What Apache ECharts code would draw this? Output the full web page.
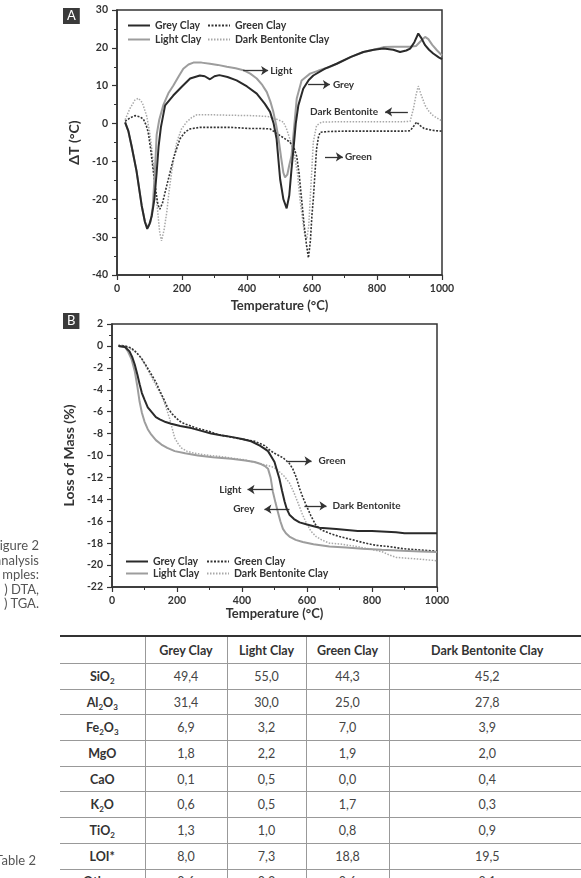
<!DOCTYPE html>
<html><head><meta charset="utf-8">
<script src="https://cdn.jsdelivr.net/npm/echarts@6/dist/echarts.min.js"></script>
<style>
html,body{margin:0;padding:0;background:#fff;}
body{width:581px;height:878px;overflow:hidden;position:relative;font-family:Lato,'Open Sans',sans-serif;}
#chart{position:absolute;left:0;top:0;width:581px;height:625px;}
.cap{position:absolute;color:#555;font-size:13px;line-height:14.5px;text-align:right;white-space:nowrap;}
table{position:absolute;left:60px;top:635px;border-collapse:collapse;table-layout:fixed;width:525px;font-size:12.5px;color:#444;}
td{padding:0;text-align:center;border-bottom:1px solid #999;border-left:1px solid #999;height:24.7px;}
td:first-child{border-left:none;font-weight:bold;color:#333;}
tr.head td{font-weight:bold;color:#333;height:26px;}
tr.head{border-top:2px solid #333;}
sub{font-size:8px;line-height:0;vertical-align:-3px;}
</style></head>
<body>
<div id="chart"></div>
<div class="cap" style="right:542px;top:538px;">igure 2<br>analysis<br>mples:<br>) DTA,<br>) TGA.</div>
<div class="cap" style="right:545px;top:853px;">Table 2</div>
<table id="tbl"></table>
<script>
// ---------- DTA (A) ----------
const dtaGreyT = [25,35,45,60,76,86,93,100,107,115,122,128,135,148,173,200,225,255,270,286,300,315,340,368,400,430,455,471,482,491,502,512,522,530,537,543,550,558,573,590,604,640,676,720,758,790,820,850,871,890,902,915,927,937,948,960,973,990,1000];
const dtaGreyV = [0.3,-2,-6,-12.5,-21.7,-26,-27.8,-26.5,-24.4,-20,-13,-6,-1,4.8,7.4,9.8,11.9,12.7,12.5,11.7,12.5,12.8,12.3,11.4,9.8,7.9,5.2,3.1,0,-4,-14.7,-20,-22.4,-19,-12,-6.7,0,4.8,9.2,11.5,12.7,14.5,15.8,17.6,18.9,19.5,19.8,19.5,18.9,19.3,19.8,21.5,23.8,22.5,20.7,19.5,18.5,17.5,17.0];
const dtaLightT = [25,35,45,60,76,86,95,103,110,117,122,130,143,158,173,190,204,220,235,260,286,310,338,365,389,410,430,447,461,472,481,490,497,505,512,517,524,530,537,545,553,568,594,620,650,676,720,758,790,820,850,880,900,920,935,948,958,970,985,1000];
const dtaLightV = [0.3,-2,-6,-12.5,-21.7,-26,-27.5,-26,-22,-12,-3,1,5,8,10,12.5,14.5,15.6,16.1,16.1,15.8,15.5,15,14.6,14.1,13.2,11.9,10.2,8.3,5.8,3.1,-0.5,-4,-9,-13,-14.2,-13.5,-11,-8.5,-1,6.6,11.4,13.2,14,14.8,15.8,17.6,18.9,19.5,20.2,20.3,20.3,20.3,20.5,21.8,22.9,22.3,20.8,19.3,18];
const dtaGreenT = [25,40,55,70,81,90,96,104,112,120,126,132,140,147,153,163,173,184,194,210,225,255,300,350,409,440,471,490,502,520,532,545,553,560,568,576,583,589,595,600,604,610,614,620,625,650,700,800,880,902,912,922,932,945,960,980,1000];
const dtaGreenV = [0.6,1.5,2.1,1.8,1.2,-0.5,-2.3,-7,-12.8,-18,-21.5,-22.6,-21,-18.5,-16.4,-13,-9.4,-6.5,-4,-2.2,-1.4,-1.0,-1.0,-1.0,-1.3,-1.3,-1.4,-2.5,-3.2,-4.2,-4.9,-6.5,-8.7,-13,-20,-27,-32,-35.5,-31,-24,-20,-12,-6.7,-3.5,-2.3,-2.1,-2.0,-2.0,-2.0,-1.9,-0.8,0.4,-0.5,-1.3,-1.6,-1.9,-2.0];
const dtaBentT = [25,40,55,66,78,91,100,107,112,117,125,131,137,145,153,160,168,176,184,198,214,230,245,300,350,409,440,471,490,512,522,532,545,555,563,572,578,584,590,595,599,604,614,630,700,800,880,902,912,920,927,935,948,960,973,990,1000];
const dtaBentV = [1,4,6.2,6.7,5.5,2.1,-2,-6.7,-11,-16.4,-23,-28.5,-31,-28,-23.5,-18,-12.9,-8.5,-4.9,-1.5,0.4,1.6,2.3,2.3,2.2,2.1,2.0,1.8,1.2,0.4,-1.5,-4.1,-8,-13,-20,-26,-29.5,-30.5,-27,-19,-12.9,-4.9,-0.5,0.4,0.5,0.5,0.5,0.6,3.9,7.5,9.9,7.8,4.8,3.2,2.1,1.2,0.7];

// ---------- TGA (B) ----------
const tgaGreyT = [20,40,54,62,70,78,85,92,100,110,121,135,147,165,182,210,244,275,305,335,367,400,428,455,470,480,490,500,507,515,523,531,538,546,560,577,600,638,690,756,800,874,900,1000];
const tgaGreyV = [0,-0.1,-0.5,-1,-1.7,-2.6,-3.5,-4.3,-4.9,-5.6,-6.0,-6.5,-6.7,-6.95,-7.1,-7.3,-7.5,-7.75,-8.0,-8.15,-8.3,-8.5,-8.7,-9.1,-9.4,-9.6,-10.1,-10.6,-11.3,-12.1,-13.2,-14.2,-14.9,-15.4,-15.8,-16.1,-16.3,-16.6,-16.7,-16.9,-16.9,-17.0,-17.1,-17.1];
const tgaLightT = [20,40,49,60,70,78,85,92,100,110,121,135,152,170,193,225,264,310,367,410,439,460,472,480,488,495,503,510,518,526,535,546,565,587,620,669,720,771,830,894,950,1000];
const tgaLightV = [0,-0.1,-0.5,-1.2,-2.3,-3.7,-5.1,-6.1,-6.9,-7.6,-8.1,-8.6,-9.0,-9.3,-9.6,-9.8,-10.0,-10.15,-10.3,-10.45,-10.6,-10.8,-11.0,-11.2,-12.0,-13.3,-14.3,-15.1,-16.0,-16.7,-17.1,-17.4,-17.7,-17.9,-18.1,-18.3,-18.4,-18.5,-18.6,-18.7,-18.75,-18.8];
const tgaGreenT = [20,40,60,75,90,105,121,135,147,160,172,185,198,210,223,260,300,326,380,439,470,485,500,526,545,556,567,577,587,597,612,628,645,669,700,741,780,813,850,894,940,986,1000];
const tgaGreenV = [0,0,-0.2,-0.6,-1.1,-1.8,-2.6,-3.3,-4.1,-4.9,-5.7,-6.2,-6.6,-6.9,-7.1,-7.5,-7.8,-8.1,-8.4,-8.7,-9.1,-9.5,-9.8,-10.2,-10.7,-11.2,-12.0,-13.0,-13.8,-14.5,-15.5,-16.4,-16.8,-17.1,-17.4,-17.7,-18.0,-18.2,-18.3,-18.5,-18.6,-18.7,-18.75];
const tgaBentT = [20,40,60,75,90,105,121,137,152,165,177,185,193,203,213,230,254,300,336,370,408,450,490,505,530,546,560,572,585,597,612,628,645,669,710,751,790,833,855,874,920,960,1000];
const tgaBentV = [0.1,0,-0.3,-0.6,-1.1,-1.9,-2.8,-3.7,-4.5,-5.5,-6.6,-7.5,-8.4,-8.9,-9.3,-9.6,-9.8,-10.0,-10.1,-10.25,-10.4,-10.7,-11.0,-11.2,-11.9,-12.5,-13.4,-14.3,-15.3,-16.1,-16.9,-17.4,-17.7,-18.0,-18.1,-18.3,-18.5,-18.8,-19.1,-19.3,-19.4,-19.5,-19.6];

// ---------- annotations (data coordinates) ----------
const annA = [
  {text:'Light', from:[388,14.0], to:[465,14.0], gap:2},
  {text:'Grey', from:[588,10.3], to:[655,10.3], gap:3},
  {text:'Dark Bentonite', from:[895,3.1], to:[825,3.1], gap:7},
  {text:'Green', from:[640,-8.8], to:[695,-8.8], gap:2}
];
const annB = [
  {text:'Green', from:[540,-10.5], to:[614,-10.5], gap:7},
  {text:'Dark Bentonite', from:[592,-14.6], to:[660,-14.6], gap:6},
  {text:'Light', from:[494,-13.1], to:[417,-13.1], gap:6},
  {text:'Grey', from:[546,-14.9], to:[469,-14.9], gap:10}
];

// ---------- table ----------
const tableHeader = ['Grey Clay','Light Clay','Green Clay','Dark Bentonite Clay'];
const oxides = ['SiO2','Al2O3','Fe2O3','MgO','CaO','K2O','TiO2','LOI*','Others'];
const greyComp  = [49.4,31.4,6.9,1.8,0.1,0.6,1.3,8.0,0.6];
const lightComp = [55.0,30.0,3.2,2.2,0.5,0.5,1.0,7.3,0.3];
const greenComp = [44.3,25.0,7.0,1.9,0.0,1.7,0.8,18.8,0.6];
const bentComp  = [45.2,27.8,3.9,2.0,0.4,0.3,0.9,19.5,0.1];

const FONT = 'Lato, "Open Sans", sans-serif';
const names = ['Grey Clay','Light Clay','Green Clay','Dark Bentonite Clay'];
const styles = [
  {color:'#2a2a2a', width:2, type:'solid'},
  {color:'#9d9d9d', width:2, type:'solid'},
  {color:'#333333', width:1.6, type:[2,1.5]},
  {color:'#a8a8a8', width:1.5, type:[1.5,1.5]}
];
function zip(t,v){ return t.map((x,i)=>[x,v[i]]); }

function annMark(list){
  return {
    silent:true, symbol:['none','arrow'], symbolSize:7, precision:3,
    lineStyle:{color:'#333', width:1.3, type:'solid'},
    label:{show:true, position:'end', fontFamily:FONT, fontSize:10, fontWeight:'bold', color:'#333'},
    emphasis:{disabled:true},
    data: list.map(a=>[
      {coord:a.from, label:{formatter:a.text, distance:a.gap}},
      {coord:a.to}
    ])
  };
}

function xAx(gi, gap){
  return {
    type:'value', gridIndex:gi, min:0, max:1000, interval:200,
    axisLine:{show:true, onZero:false, lineStyle:{color:'#333', width:1.5}},
    axisTick:{show:true, length:5, lineStyle:{color:'#333', width:1.2}},
    minorTick:{show:true, splitNumber:2, length:3, lineStyle:{color:'#333', width:1}},
    splitLine:{show:false},
    axisLabel:{margin:8, fontFamily:FONT, fontSize:10.5, fontWeight:'bold', color:'#333', formatter:v=>String(v)},
    name:'Temperature (°C)', nameLocation:'middle', nameGap:gap,
    nameTextStyle:{fontFamily:FONT, fontSize:13, fontWeight:'bold', color:'#333'}
  };
}
function yAx(gi, min, max, iv, name, size){
  return {
    type:'value', gridIndex:gi, min:min, max:max, interval:iv,
    axisLine:{show:true, onZero:false, lineStyle:{color:'#333', width:1.5}},
    axisTick:{show:true, length:5, lineStyle:{color:'#333', width:1.2}},
    minorTick:{show:true, splitNumber:2, length:3, lineStyle:{color:'#333', width:1}},
    splitLine:{show:false},
    axisLabel:{margin:9, fontFamily:FONT, fontSize:10.5, fontWeight:'bold', color:'#333', formatter:v=>String(v)},
    name:name, nameLocation:'middle', nameGap:33, nameRotate:90,
    nameTextStyle:{fontFamily:FONT, fontSize:size, fontWeight:'bold', color:'#333'}
  };
}

const dtaData = [zip(dtaGreyT,dtaGreyV), zip(dtaLightT,dtaLightV), zip(dtaGreenT,dtaGreenV), zip(dtaBentT,dtaBentV)];
const tgaData = [zip(tgaGreyT,tgaGreyV), zip(tgaLightT,tgaLightV), zip(tgaGreenT,tgaGreenV), zip(tgaBentT,tgaBentV)];

const series = [];
[dtaData, tgaData].forEach((set, gi)=>{
  set.forEach((d,i)=>{
    const s = {
      type:'line', name:names[i], xAxisIndex:gi, yAxisIndex:gi, data:d,
      symbol:'none', showSymbol:false, silent:true,
      lineStyle:{color:styles[i].color, width:styles[i].width, type:styles[i].type},
      itemStyle:{color:styles[i].color},
      z: 5 - i
    };
    if(i===0) s.markLine = annMark(gi===0 ? annA : annB);
    series.push(s);
  });
});

function leg(name, left, top){
  return {data:[name], left:left, top:top, padding:0, itemWidth:22, itemHeight:10,
    selectedMode:false, itemStyle:{opacity:0, borderWidth:0},
    textStyle:{fontFamily:FONT, fontSize:10.5, fontWeight:'bold', color:'#333'}};
}

const option = {
  animation:false,
  backgroundColor:'#fff',
  title:[
    {text:'A', left:63, top:8, backgroundColor:'#3a3a3a', padding:[1,4,1,4],
      textStyle:{color:'#fff', fontSize:13, fontWeight:'normal', fontFamily:FONT, lineHeight:14}},
    {text:'B', left:63, top:313, backgroundColor:'#3a3a3a', padding:[1,4,1,4],
      textStyle:{color:'#fff', fontSize:13, fontWeight:'normal', fontFamily:FONT, lineHeight:14}}
  ],
  grid:[
    {left:117, top:10, width:325, height:265, show:true, borderColor:'#333', borderWidth:1.5, backgroundColor:'transparent'},
    {left:112, top:324, width:325, height:263, show:true, borderColor:'#333', borderWidth:1.5, backgroundColor:'transparent'}
  ],
  xAxis:[xAx(0,24), xAx(1,20)],
  yAxis:[yAx(0,-40,30,10,'ΔT (°C)',14), yAx(1,-22,2,2,'Loss of Mass (%)',14)],
  legend:[
    leg('Grey Clay',127,20), leg('Green Clay',207,20),
    leg('Light Clay',127,34), leg('Dark Bentonite Clay',207,34),
    leg('Grey Clay',125,556), leg('Green Clay',206,556),
    leg('Light Clay',125,568), leg('Dark Bentonite Clay',206,568)
  ],
  series:series
};

const chart = echarts.init(document.getElementById('chart'), null, {renderer:'canvas'});
chart.setOption(option);

// table
function formula(s){ return s.replace(/(\d)/g,'<sub>$1</sub>'); }
function fmt(v){ return v.toFixed(1).replace('.',','); }
const tbl = document.getElementById('tbl');
let html = '<colgroup><col style="width:85px"><col style="width:82px"><col style="width:79px"><col style="width:83px"><col style="width:196px"></colgroup>';
html += '<tr class="head"><td></td>' + tableHeader.map(h=>'<td>'+h+'</td>').join('') + '</tr>';
oxides.forEach((o,i)=>{
  html += '<tr><td>'+formula(o)+'</td><td>'+fmt(greyComp[i])+'</td><td>'+fmt(lightComp[i])+'</td><td>'+fmt(greenComp[i])+'</td><td>'+fmt(bentComp[i])+'</td></tr>';
});
tbl.innerHTML = html;
</script>
</body></html>
